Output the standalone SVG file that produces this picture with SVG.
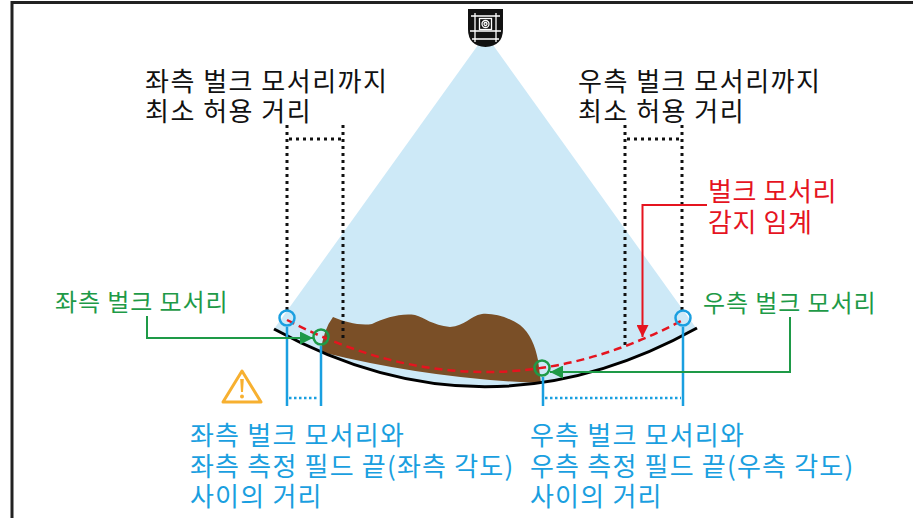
<svg xmlns="http://www.w3.org/2000/svg" width="913" height="518" viewBox="0 0 913 518">
  <style>
    text { font-family: "Noto Sans CJK KR", "Noto Sans", sans-serif; }
    .lbl { font-size: 26px; letter-spacing: 1.5px; fill: #111; }
    .blue { font-size: 26px; letter-spacing: 1.2px; fill: #1a9fe0; }
    .green { font-size: 24px; letter-spacing: 0.9px; fill: #1e9a47; }
    .red { font-size: 26px; letter-spacing: 0.6px; fill: #e5141f; }
    .dot { fill: none; stroke: #111; stroke-width: 3; stroke-dasharray: 3 4; }
    .bl { fill: none; stroke: #1a9fe0; stroke-width: 2.5; }
    .bdot { fill: none; stroke: #1a9fe0; stroke-width: 2.5; stroke-dasharray: 2.5 2.5; }
    .gr { fill: none; stroke: #1e9a47; stroke-width: 2; }
    .rd { fill: none; stroke: #e5141f; stroke-width: 2; }
  </style>
  <defs>
    <marker id="arrG" viewBox="0 0 10 10" refX="10" refY="5" markerWidth="19" markerHeight="13" markerUnits="userSpaceOnUse" orient="auto">
      <path d="M0,0 L10,5 L0,10 Z" fill="#1e9a47"/>
    </marker>
    <marker id="arrR" viewBox="0 0 10 10" refX="10" refY="5" markerWidth="17" markerHeight="12" markerUnits="userSpaceOnUse" orient="auto">
      <path d="M0,0 L10,5 L0,10 Z" fill="#e5141f"/>
    </marker>
  </defs>

  <rect x="0" y="0" width="913" height="518" fill="#fff"/>

  <!-- page frame -->
  <g id="frame" fill="none" stroke="#222" stroke-width="3">
    <path d="M12,518 V2.5 H913"/>
  </g>

  <!-- field of view -->
  <g id="cone">
    <path d="M478,45 L493,45 L696,328 Q486,445 274,329 Z" fill="#cde9f7"/>
  </g>

  <!-- bulk material -->
  <g id="bulk">
    <path d="M321,352 Q323,330 333,317 C345,322 360,326 372,324 C385,318 400,313 415,315 C425,318 432,325 450,327 C465,326 470,316 482,314 C495,313 510,318 520,325 C530,333 535,345 538,360 L541,383 Q430,379 321,352 Z" fill="#7a4f27"/>
  </g>

  <!-- bin floor -->
  <g id="floor">
    <path d="M274,329 Q486,445 697,328" fill="none" stroke="#000" stroke-width="3"/>
  </g>

  <!-- camera -->
  <g id="camera">
    <path d="M468,9 H503 V29 Q503,46 485.5,47 Q468,46 468,29 Z" fill="#111"/>
    <g stroke="#fff" stroke-width="1.3" fill="none">
      <path d="M471,16 H500 M470,31 H501 M472,39 H499 M475,13 V42 M496,13 V42"/>
      <rect x="479.5" y="18.5" width="12" height="11" fill="#111"/>
      <circle cx="485.5" cy="24" r="3.5"/>
      <circle cx="485.5" cy="24" r="1.5"/>
    </g>
  </g>

  <!-- minimum allowed distance markers -->
  <g id="left-min-dist">
    <path class="dot" d="M287,125 V311 M343,125 V338 M289,139 H341"/>
    <text class="lbl" x="145" y="91">좌측 벌크 모서리까지</text>
    <text class="lbl" x="145" y="121">최소 허용 거리</text>
  </g>
  <g id="right-min-dist">
    <path class="dot" d="M625,125 V345 M682,125 V311 M627,139 H680"/>
    <text class="lbl" x="578" y="91">우측 벌크 모서리까지</text>
    <text class="lbl" x="578" y="121">최소 허용 거리</text>
  </g>

  <!-- detection threshold -->
  <g id="threshold">
    <path d="M287,320 Q487,424 683,320" fill="none" stroke="#e5141f" stroke-width="2.5" stroke-dasharray="8 5"/>
    <text class="red" x="708" y="201">벌크 모서리</text>
    <text class="red" x="708" y="232">감지 임계</text>
  </g>

  <!-- measurement field edges and bulk edges -->
  <g id="markers">
    <circle cx="287" cy="318" r="7.5" fill="none" stroke="#1a9fe0" stroke-width="2.5"/>
    <circle cx="683" cy="318" r="7.5" fill="none" stroke="#1a9fe0" stroke-width="2.5"/>
    <circle cx="321" cy="337" r="7.5" fill="none" stroke="#1e9a47" stroke-width="2.5"/>
    <circle cx="542" cy="368" r="7.5" fill="none" stroke="#1e9a47" stroke-width="2.5"/>
  </g>

  <!-- distance between bulk edge and field edge -->
  <g id="left-gap">
    <path class="bl" d="M287,327 V406 M321,346 V406"/>
    <path class="bdot" d="M289,398 H319"/>
    <text class="blue" x="190" y="445">좌측 벌크 모서리와</text>
    <text class="blue" x="190" y="476">좌측 측정 필드 끝(좌측 각도)</text>
    <text class="blue" x="190" y="506">사이의 거리</text>
  </g>
  <g id="right-gap">
    <path class="bl" d="M543,377 V406 M683,327 V406"/>
    <path class="bdot" d="M545,398 H681"/>
    <text class="blue" x="530" y="445">우측 벌크 모서리와</text>
    <text class="blue" x="530" y="476">우측 측정 필드 끝(우측 각도)</text>
    <text class="blue" x="530" y="506">사이의 거리</text>
  </g>

  <!-- bulk edge labels -->
  <g id="left-edge-label">
    <text class="green" x="55" y="311">좌측 벌크 모서리</text>
  </g>
  <g id="right-edge-label">
    <text class="green" x="703" y="312">우측 벌크 모서리</text>
  </g>

  <!-- warning sign -->
  <g id="warning">
    <path d="M242,371 L261,402 L223,402 Z" fill="none" stroke="#f7b030" stroke-width="3" stroke-linejoin="round"/>
    <path d="M240.2,379 H243.8 L243,392 H241 Z" fill="#f7b030"/>
    <circle cx="242" cy="396.5" r="2" fill="#f7b030"/>
  </g>

  <!-- connectors -->
  <g id="connectors">
    <path class="gr" d="M147,316 V338 H313" marker-end="url(#arrG)"/>
    <path class="gr" d="M790,317 V372 H550" marker-end="url(#arrG)"/>
    <path class="rd" d="M707,205 H642.5 V337" marker-end="url(#arrR)"/>
  </g>
</svg>
